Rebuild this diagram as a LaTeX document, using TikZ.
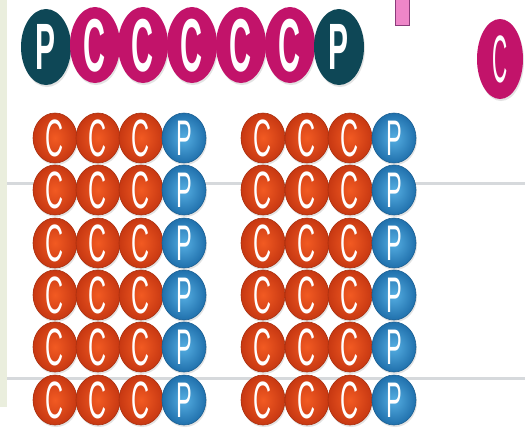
\documentclass[tikz,border=0pt]{standalone}
\usepackage{fontspec}
\usetikzlibrary{shapes.geometric,shadows}
\newfontfamily\ballfont{Liberation Sans}
\definecolor{topmag}{HTML}{C2136A}
\definecolor{toppet}{HTML}{0E4756}
\definecolor{orin}{HTML}{F25A22}
\definecolor{orout}{HTML}{C73812}
\definecolor{blin}{HTML}{55AEE2}
\definecolor{blout}{HTML}{2070AC}
\definecolor{strip}{HTML}{EAEEDD}
\definecolor{rule}{HTML}{D6D9DC}
\definecolor{pinkbar}{HTML}{EE86C8}
\definecolor{pinkedge}{HTML}{8A3C7A}
\newcommand\ballletter[4]{\raisebox{-0.5\height}[0pt][0pt]{\makebox[0pt]{\scalebox{#1}[#2]{\fontsize{50}{50}\ballfont#3#4}}}}
\tikzset{
  ball/.style={ellipse, inner sep=0pt, text=white,
    drop shadow={opacity=0.22, shadow xshift=1pt, shadow yshift=-2pt}},
  topball/.style={ball, minimum width=50pt, minimum height=76pt},
  gridball/.style={ball, minimum width=44pt, minimum height=50pt, line width=0.6pt},
  magball/.style={topball, fill=topmag},
  petball/.style={topball, fill=toppet},
  orball/.style={gridball, inner color=orin, outer color=orout, draw=orout!85!black},
  blball/.style={gridball, inner color=blin, outer color=blout, draw=blout!85!black},
  ruleline/.style={rule, line width=3pt}
}
\begin{document}
\begin{tikzpicture}[x=1pt,y=-1pt]
\useasboundingbox (0,0) rectangle (525,437);
\fill[white] (0,0) rectangle (525,437);
\fill[strip] (0,0) rectangle (7,407);
\coordinate (r1a) at (7,183); \coordinate (r1b) at (525,183);
\coordinate (r2a) at (7,378); \coordinate (r2b) at (525,378);
\draw[ruleline] (r1a) -- (r1b);
\draw[ruleline] (r2a) -- (r2b);
\draw[pinkedge, fill=pinkbar, line width=1pt] (395,-2) rectangle (409,25);
% top row
\node[petball] (t1) at (46,47) {\ballletter{0.6}{1.31}{\bfseries}{P}};
\foreach \i/\x in {2/95,3/143,4/192,5/241,6/290}{
  \node[magball] (t\i) at (\x,45) {\ballletter{0.61}{1.5}{\bfseries}{C}};
}
\node[petball] (t7) at (339,47) {\ballletter{0.6}{1.31}{\bfseries}{P}};
% single C
\node[magball, minimum width=46pt, minimum height=80pt] (sc) at (500,59) {\ballletter{0.42}{1.34}{}{C}};
% grids
\foreach \r/\y in {1/138,2/190,3/243,4/295,5/347,6/400}{
  \foreach \c/\x in {1/55,2/98,3/141}{
    \node[orball] (L\r\c) at (\x,\y) {\ballletter{0.5}{1.05}{}{C}};
  }
  \node[blball] (L\r4) at (184,\y) {\ballletter{0.47}{1.0}{}{P}};
  \foreach \c/\x in {1/263,2/307,3/350}{
    \node[orball] (R\r\c) at (\x,\y) {\ballletter{0.5}{1.05}{}{C}};
  }
  \node[blball] (R\r4) at (394,\y) {\ballletter{0.47}{1.0}{}{P}};
}
\end{tikzpicture}
\end{document}
